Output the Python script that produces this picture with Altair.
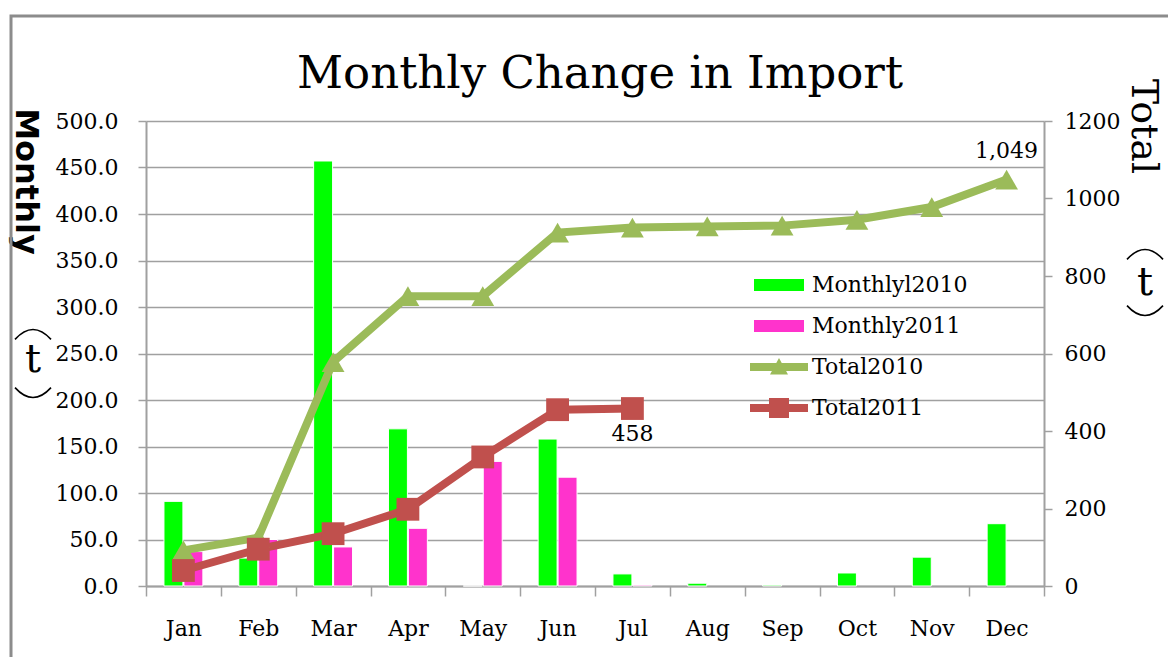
import altair as alt
import pandas as pd

months = ["Jan", "Feb", "Mar", "Apr", "May", "Jun", "Jul", "Aug", "Sep", "Oct", "Nov", "Dec"]
monthly_2010 = [91, 30, 457, 169, 0, 158, 13, 3, 1, 14, 31, 67]
monthly_2011 = [37, 50, 42, 62, 134, 117, 1]
total_2010 = [92, 125, 578, 748, 748, 912, 925, 928, 930, 945, 978, 1049]
total_2011 = [40, 95, 135, 198, 333, 455, 458]
series_names = ["Monthlyl2010", "Monthly2011", "Total2010", "Total2011"]
series_colors = ["#00FF00", "#FF33CC", "#9BBB59", "#C0504D"]
label_month_2010, label_text_2010 = "Dec", "1,049"
label_month_2011, label_text_2011 = "Jul", "458"

bar_rows = []
for m, v in zip(months, monthly_2010):
    bar_rows.append({"month": m, "series": series_names[0], "value": v})
for m, v in zip(months, monthly_2011):
    bar_rows.append({"month": m, "series": series_names[1], "value": v})
bar_df = pd.DataFrame(bar_rows)

line_rows = []
for m, v in zip(months, total_2010):
    line_rows.append({"month": m, "series": series_names[2], "value": v})
for m, v in zip(months, total_2011):
    line_rows.append({"month": m, "series": series_names[3], "value": v})
line_df = pd.DataFrame(line_rows)

SERIF = "DejaVu Serif"
GRAY = "#A0A0A0"

color_scale = alt.Scale(domain=series_names, range=series_colors)

bar_path = "M-2.5,-0.6H2.5V0.6H-2.5Z"
tri_path = "M-2.9,-0.4H2.9V0.4H-2.9Z M-0.9,0.75L0,-0.9L0.9,0.75Z"
sq_path = "M-2.9,-0.4H2.9V0.4H-2.9Z M-1,-1H1V1H-1Z"
sym_expr = (
    f"datum.value === '{series_names[2]}' ? '{tri_path}' : "
    f"datum.value === '{series_names[3]}' ? '{sq_path}' : '{bar_path}'"
)

legend = alt.Legend(
    title=None,
    orient="none",
    legendX=622,
    legendY=153,
    symbolType=alt.ExprRef(expr=sym_expr),
    symbolSize=400,
    symbolStrokeWidth=0,
    symbolOpacity=1,
    labelFont=SERIF,
    labelFontSize=22,
    labelColor="black",
    labelOffset=22,
    rowPadding=19,
    padding=0,
)

x_enc = alt.X(
    "month:N",
    sort=months,
    scale=alt.Scale(paddingInner=0, paddingOuter=0),
    axis=alt.Axis(
        title=None,
        labelAngle=0,
        labelFont=SERIF,
        labelFontSize=22,
        labelColor="black",
        labelPadding=22,
        tickBand="extent",
        tickSize=10,
        tickColor=GRAY,
        tickWidth=1.5,
        domainColor=GRAY,
        domainWidth=2,
        grid=False,
    ),
)

bars = alt.Chart(bar_df).mark_bar(stroke="white", strokeWidth=1).encode(
    x=x_enc,
    xOffset=alt.XOffset(
        "series:N",
        sort=series_names[:2],
        scale=alt.Scale(paddingInner=0.05, paddingOuter=0.9),
    ),
    y=alt.Y(
        "value:Q",
        scale=alt.Scale(domain=[0, 500]),
        axis=alt.Axis(
            title="Monthly",
            titleAngle=90,
            titleX=-121,
            titleY=60,
            titleAlign="center",
            titleBaseline="middle",
            titleFont="DejaVu Sans",
            titleFontWeight="bold",
            titleFontSize=32,
            titleColor="black",
            values=list(range(0, 501, 50)),
            format=".1f",
            labelFont=SERIF,
            labelFontSize=22,
            labelColor="black",
            labelPadding=20,
            tickSize=8,
            tickColor=GRAY,
            tickWidth=1.5,
            domainColor=GRAY,
            domainWidth=2,
            grid=True,
            gridColor=GRAY,
            gridWidth=1.5,
        ),
    ),
    color=alt.Color("series:N", scale=color_scale, legend=legend),
)

right_axis = alt.Axis(
    orient="right",
    title="Total",
    titleAngle=90,
    titleX=98,
    titleY=5,
    titleAlign="center",
    titleBaseline="middle",
    titleFont=SERIF,
    titleFontWeight="normal",
    titleFontSize=38,
    titleColor="black",
    values=list(range(0, 1201, 200)),
    format="d",
    labelFont=SERIF,
    labelFontSize=22,
    labelColor="black",
    labelPadding=12,
    tickSize=8,
    tickColor=GRAY,
    tickWidth=1.5,
    domainColor=GRAY,
    domainWidth=2,
    grid=False,
)


def y_right():
    return alt.Y("value:Q", scale=alt.Scale(domain=[0, 1200]), axis=right_axis)


lines = alt.Chart(line_df).mark_line(strokeWidth=8).encode(
    x=alt.X("month:N", sort=months),
    y=y_right(),
    color=alt.Color("series:N", scale=color_scale, legend=None),
)

points = alt.Chart(line_df).mark_point(filled=True, opacity=1, size=520).encode(
    x=alt.X("month:N", sort=months),
    y=y_right(),
    color=alt.Color("series:N", scale=color_scale, legend=None),
    shape=alt.Shape(
        "series:N",
        scale=alt.Scale(domain=series_names[2:], range=["triangle-up", "square"]),
        legend=None,
    ),
)

lab1 = (
    alt.Chart(line_df)
    .transform_filter(
        (alt.datum.series == series_names[2]) & (alt.datum.month == label_month_2010)
    )
    .transform_calculate(txt=f"'{label_text_2010}'")
    .mark_text(font=SERIF, fontSize=22, color="black", dy=-29)
    .encode(x=alt.X("month:N", sort=months), y=y_right(), text="txt:N")
)
lab2 = (
    alt.Chart(line_df)
    .transform_filter(
        (alt.datum.series == series_names[3]) & (alt.datum.month == label_month_2011)
    )
    .transform_calculate(txt=f"'{label_text_2011}'")
    .mark_text(font=SERIF, fontSize=22, color="black", dy=25)
    .encode(x=alt.X("month:N", sort=months), y=y_right(), text="txt:N")
)

deco_df = pd.DataFrame({"t": ["Monthly Change in Import"]})

title_mark = alt.Chart(deco_df).mark_text(
    font=SERIF, fontSize=45, color="black", align="center", baseline="alphabetic"
).encode(x=alt.value(454), y=alt.value(-33), text="t:N")

ARC_TOP = "M-1,0.3Q0,-0.8 1,0.3"
ARC_BOT = "M-1,-0.3Q0,0.8 1,-0.3"


def paren_group(xc, y_top, y_t, y_bot):
    top = alt.Chart(deco_df).mark_point(
        shape=ARC_TOP, size=1296, filled=False, stroke="black",
        strokeWidth=1.6, opacity=1,
    ).encode(x=alt.value(xc), y=alt.value(y_top))
    mid = alt.Chart(deco_df).mark_text(
        font=SERIF, fontSize=40, color="black",
        align="center", baseline="middle",
    ).encode(x=alt.value(xc), y=alt.value(y_t), text=alt.value("t"))
    bot = alt.Chart(deco_df).mark_point(
        shape=ARC_BOT, size=1296, filled=False, stroke="black",
        strokeWidth=1.6, opacity=1,
    ).encode(x=alt.value(xc), y=alt.value(y_bot))
    return [top, mid, bot]


left_paren = paren_group(-113, 213, 239, 272)
right_paren = paren_group(999, 133, 162, 190)

frame = alt.Chart(deco_df).mark_rect(
    fill=None, stroke="#8C8C8C", strokeWidth=3
).encode(x=alt.value(-135), y=alt.value(-105), x2=alt.value(1050), y2=alt.value(560))

right = alt.layer(lines, points, lab1, lab2, title_mark, frame, *left_paren, *right_paren)

chart = (
    alt.layer(bars, right)
    .resolve_scale(y="independent")
    .properties(
        width=898,
        height=465,
        autosize=alt.AutoSizeParams(type="none"),
        padding={"left": 138, "top": 113, "right": 124, "bottom": 71},
        background="white",
    )
    .configure_view(stroke=None)
)

chart.save("out.html", embed_options={"renderer": "svg", "actions": False})
